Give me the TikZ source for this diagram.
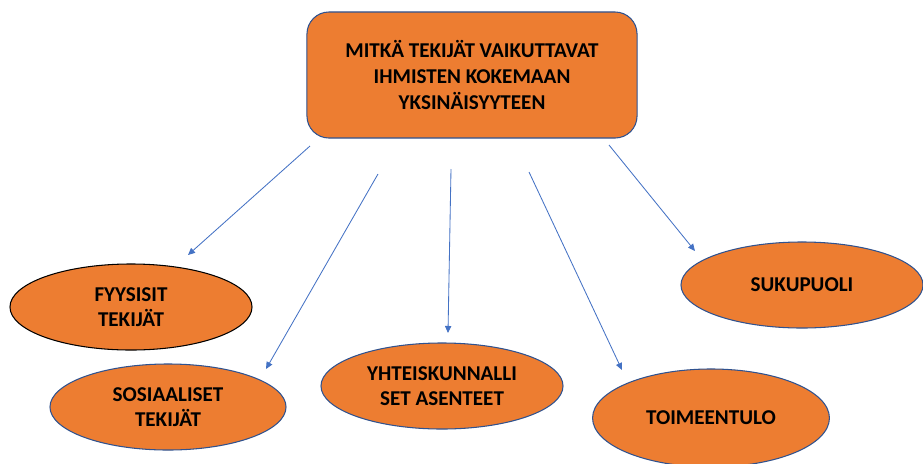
\documentclass[tikz,border=0pt]{standalone}
\usepackage{fontspec}
\setmainfont{Carlito}
\usetikzlibrary{arrows.meta,positioning,shapes.geometric}

\definecolor{oranssi}{HTML}{ED7D31}
\definecolor{reuna}{HTML}{2F528F}
\definecolor{nuoli}{HTML}{4472C4}

\tikzset{
  kysymys/.style={draw=reuna, fill=oranssi, rounded corners=0.55cm,
    minimum width=8.25cm, minimum height=3.15cm, align=center,
    font=\bfseries\fontsize{15}{18.8}\selectfont, line width=0.75pt},
  tekija/.style={ellipse, draw=reuna, fill=oranssi, inner sep=0pt,
    minimum width=6.05cm, minimum height=2.15cm, align=center,
    font=\bfseries\fontsize{15}{18}\selectfont, line width=0.75pt},
  yhteys/.style={->, >={Triangle[length=5pt,width=4.5pt]}, draw=nuoli, line width=0.6pt}
}

\begin{document}
\begin{tikzpicture}[x=0.025cm, y=-0.025cm]
          \useasboundingbox (0,0) rectangle (923,463);

          \node[kysymys] (kysymys) at (472,75) {MITKÄ TEKIJÄT VAIKUTTAVAT\\IHMISTEN KOKEMAAN\\YKSINÄISYYTEEN};

          \node[tekija, draw=black] (fyysiset) at (131,307) {FYYSISIT\\TEKIJÄT};
          \node[tekija, minimum width=5.9cm] (sosiaaliset) at (168,407) {SOSIAALISET\\TEKIJÄT};
          \node[tekija] (asenteet) at (442,386) {YHTEISKUNNALLI\\SET ASENTEET};
          \node[tekija, minimum width=5.92cm, minimum height=2.45cm] (toimeentulo) at (711,418) {TOIMEENTULO};
          \node[tekija] (sukupuoli) at (802,285) {SUKUPUOLI};

          % nuolten alku- ja loppupisteet
          \coordinate (alku_1) at (310,146);  \coordinate (loppu_1) at (188,255);
          \coordinate (alku_2) at (378,174);  \coordinate (loppu_2) at (266,369);
          \coordinate (alku_3) at (451,169);  \coordinate (loppu_3) at (448,333);
          \coordinate (alku_4) at (529,172);  \coordinate (loppu_4) at (622,370);
          \coordinate (alku_5) at (609,145);  \coordinate (loppu_5) at (695,251);

          \draw[yhteys] (alku_1) -- (loppu_1);
          \draw[yhteys] (alku_2) -- (loppu_2);
          \draw[yhteys] (alku_3) -- (loppu_3);
          \draw[yhteys] (alku_4) -- (loppu_4);
          \draw[yhteys] (alku_5) -- (loppu_5);
        \end{tikzpicture}
\end{document}
